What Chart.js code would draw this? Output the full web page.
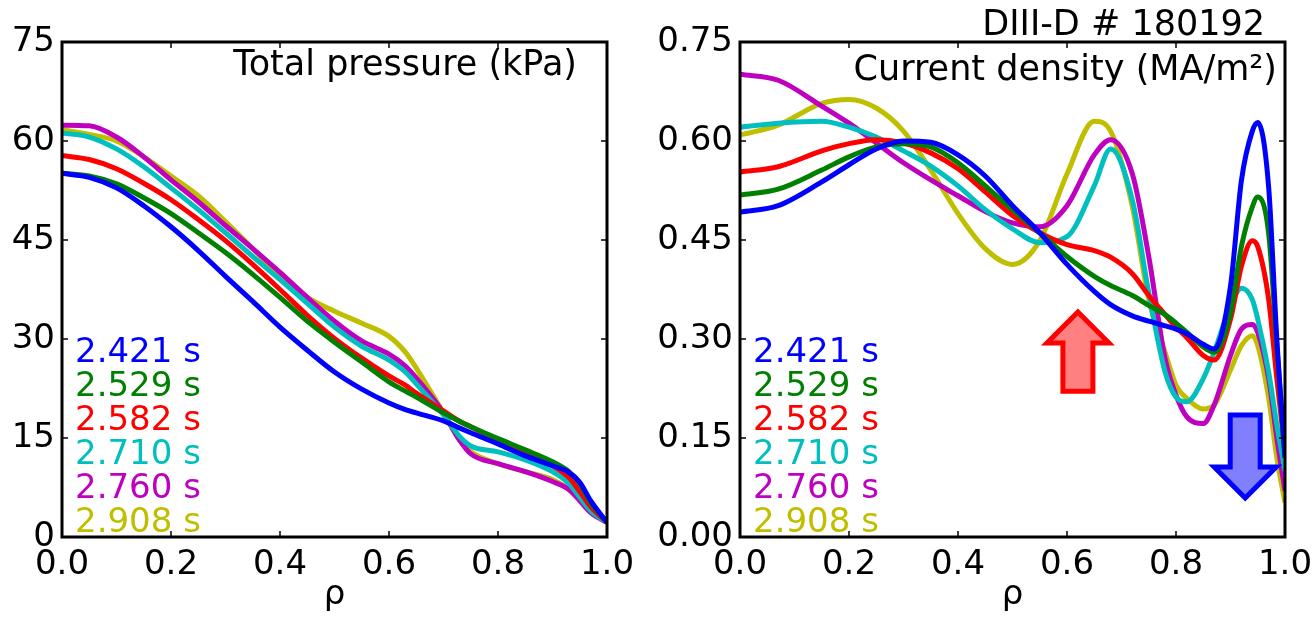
<!DOCTYPE html>
<html>
<head>
<meta charset="utf-8">
<script src="https://cdn.jsdelivr.net/npm/chart.js@4.4.1/dist/chart.umd.min.js"></script>
<style>
    html, body { margin: 0; background: #fff; width: 1315px; height: 617px; overflow: hidden; }
    body { position: relative; }
    .panel { position: absolute; top: 0; height: 617px; }
    #left { left: 0; width: 660px; }
    #right { left: 655px; width: 700px; }
</style>
</head>
<body>
<div class="panel" id="left"><canvas id="pressure-chart" width="660" height="617"></canvas></div>
<div class="panel" id="right"><canvas id="current-chart" width="700" height="617"></canvas></div>
<script>
// time slices (s) and their line colours
const times = ["2.421 s", "2.529 s", "2.582 s", "2.710 s", "2.760 s", "2.908 s"];
const colors = ["#0000ff", "#008000", "#ff0000", "#00bfbf", "#bf00bf", "#bfbf00"];

// total pressure (kPa) vs rho
const rhoP = [0, 0.05, 0.1, 0.15, 0.2, 0.25, 0.3, 0.35, 0.4, 0.45, 0.5, 0.55, 0.6, 0.63, 0.65, 0.7, 0.73, 0.75, 0.8, 0.85, 0.9, 0.93, 0.95, 0.97, 1.0];
const p2421 = [55.1, 54.5, 52.9, 50.2, 47.0, 43.4, 39.5, 35.7, 31.8, 28.3, 25.0, 22.4, 20.3, 19.3, 18.8, 17.6, 16.5, 15.8, 14.1, 12.3, 10.8, 9.8, 8.3, 5.5, 2.2];
const p2529 = [55.1, 54.7, 53.5, 51.4, 49.0, 46.1, 43.1, 39.8, 36.3, 32.7, 29.5, 26.5, 23.5, 22.1, 21.2, 18.8, 17.5, 16.7, 14.9, 13.2, 11.4, 9.9, 8.1, 5.2, 2.2];
const p2582 = [57.8, 57.2, 55.8, 53.6, 51.1, 48.1, 44.9, 41.3, 37.5, 33.6, 30.1, 27.1, 24.4, 23.0, 21.8, 19.1, 17.5, 16.7, 14.6, 12.9, 10.8, 9.0, 6.9, 4.6, 2.2];
const p2710 = [61.2, 60.6, 58.8, 56.1, 52.9, 49.6, 46.1, 42.5, 39.0, 35.4, 31.8, 28.9, 26.8, 25.0, 23.2, 18.5, 15.2, 13.8, 12.9, 11.7, 9.9, 8.1, 6.0, 4.0, 2.2];
const p2760 = [62.4, 62.3, 60.6, 57.6, 54.1, 50.8, 47.2, 43.7, 40.1, 36.3, 32.7, 29.7, 27.7, 25.9, 24.1, 18.8, 14.6, 12.6, 11.1, 9.9, 8.4, 7.2, 5.5, 3.7, 2.2];
const p2908 = [61.7, 61.0, 60.0, 57.6, 54.7, 51.7, 47.8, 43.7, 39.5, 36.3, 34.2, 32.4, 30.4, 28.0, 25.6, 18.8, 14.6, 12.9, 11.1, 9.9, 8.7, 7.2, 5.7, 4.0, 2.2];

// current density (MA/m^2) vs rho
const rhoJ = [0, 0.07, 0.15, 0.2, 0.25, 0.3, 0.35, 0.4, 0.45, 0.5, 0.55, 0.6, 0.65, 0.68, 0.72, 0.75, 0.78, 0.8, 0.82, 0.85, 0.87, 0.9, 0.92, 0.94, 0.95, 0.97, 0.985, 1.0];
const j2421 = [0.492, 0.502, 0.538, 0.564, 0.588, 0.600, 0.598, 0.579, 0.547, 0.502, 0.461, 0.413, 0.372, 0.352, 0.335, 0.327, 0.320, 0.315, 0.308, 0.292, 0.285, 0.38, 0.54, 0.615, 0.628, 0.53, 0.30, 0.12];
const j2529 = [0.518, 0.527, 0.556, 0.576, 0.591, 0.596, 0.591, 0.567, 0.532, 0.496, 0.461, 0.425, 0.395, 0.381, 0.366, 0.351, 0.337, 0.324, 0.310, 0.288, 0.280, 0.34, 0.44, 0.50, 0.515, 0.46, 0.29, 0.12];
const j2582 = [0.553, 0.561, 0.585, 0.596, 0.602, 0.597, 0.582, 0.558, 0.523, 0.487, 0.461, 0.443, 0.434, 0.424, 0.399, 0.366, 0.337, 0.318, 0.302, 0.275, 0.268, 0.33, 0.41, 0.449, 0.44, 0.36, 0.24, 0.13];
const j2710 = [0.621, 0.627, 0.630, 0.621, 0.606, 0.585, 0.562, 0.532, 0.496, 0.467, 0.446, 0.455, 0.532, 0.588, 0.51, 0.37, 0.25, 0.212, 0.205, 0.24, 0.28, 0.35, 0.377, 0.36, 0.33, 0.25, 0.17, 0.10];
const j2760 = [0.701, 0.692, 0.653, 0.627, 0.597, 0.567, 0.541, 0.517, 0.493, 0.476, 0.470, 0.502, 0.579, 0.602, 0.55, 0.425, 0.27, 0.215, 0.182, 0.172, 0.20, 0.275, 0.315, 0.322, 0.31, 0.24, 0.15, 0.07];
const j2908 = [0.609, 0.624, 0.657, 0.663, 0.650, 0.615, 0.556, 0.490, 0.437, 0.413, 0.449, 0.550, 0.630, 0.615, 0.50, 0.36, 0.28, 0.230, 0.21, 0.194, 0.20, 0.253, 0.29, 0.305, 0.29, 0.21, 0.12, 0.052];

// arrows on the current density panel: [rho centre, y tail, y tip] in data units
const arrowUp = [0.62, 0.221, 0.341];
const arrowDown = [0.927, 0.185, 0.059];

const FONT = "'DejaVu Sans', 'Liberation Sans', sans-serif";

function makeDatasets(xs, series) {
    return series.map((ys, i) => ({
        label: times[i],
        borderColor: colors[i],
        borderWidth: 5,
        pointRadius: 0,
        cubicInterpolationMode: "monotone",
        data: ys.map((y, k) => ({ x: xs[k], y: y })),
    }));
}

// box around the plot with inward ticks on all four sides
const framePlugin = {
    id: "frame",
    afterDatasetsDraw(chart) {
        const { ctx, chartArea: a, scales } = chart;
        ctx.save();
        ctx.strokeStyle = "#000";
        ctx.lineWidth = 1.5;
        ctx.beginPath();
        scales.x.ticks.forEach((t) => {
            const px = scales.x.getPixelForValue(t.value);
            ctx.moveTo(px, a.bottom); ctx.lineTo(px, a.bottom - 6);
            ctx.moveTo(px, a.top); ctx.lineTo(px, a.top + 6);
        });
        scales.y.ticks.forEach((t) => {
            const py = scales.y.getPixelForValue(t.value);
            ctx.moveTo(a.left, py); ctx.lineTo(a.left + 6, py);
            ctx.moveTo(a.right, py); ctx.lineTo(a.right - 6, py);
        });
        ctx.stroke();
        ctx.lineWidth = 3;
        ctx.strokeRect(a.left, a.top, a.right - a.left, a.bottom - a.top);
        ctx.restore();
    },
};

// coloured time labels, panel title, shot number and arrows
const textPlugin = {
    id: "panelText",
    afterDraw(chart, args, opts) {
        const { ctx, chartArea: a, scales } = chart;
        ctx.save();
        ctx.font = "34px " + FONT;
        ctx.textBaseline = "alphabetic";
        ctx.textAlign = "left";
        chart.data.datasets.forEach((ds, i) => {
            ctx.fillStyle = ds.borderColor;
            ctx.fillText(ds.label, a.left + opts.labelX, a.top + 320 + i * 34);
        });
        ctx.fillStyle = "#000";
        ctx.textAlign = "right";
        ctx.font = "35px " + FONT;
        ctx.fillText(opts.title, a.right - opts.titleInset, opts.titleY);
        if (opts.shot) ctx.fillText(opts.shot, a.right - 20, 35);

        if (opts.arrows) {
            const x = scales.x, y = scales.y;
            const drawArrow = ([rc, y0, y1], stroke, fill) => {
                const cx = x.getPixelForValue(rc);
                const tail = y.getPixelForValue(y0);
                const tip = y.getPixelForValue(y1);
                const dir = tip < tail ? 1 : -1;
                const headBase = tip + dir * 31;
                const sw = 15, hw = 31;
                ctx.beginPath();
                ctx.moveTo(cx - sw, tail);
                ctx.lineTo(cx - sw, headBase);
                ctx.lineTo(cx - hw, headBase);
                ctx.lineTo(cx, tip);
                ctx.lineTo(cx + hw, headBase);
                ctx.lineTo(cx + sw, headBase);
                ctx.lineTo(cx + sw, tail);
                ctx.closePath();
                ctx.fillStyle = fill;
                ctx.fill();
                ctx.lineWidth = 5;
                ctx.lineJoin = "miter";
                ctx.strokeStyle = stroke;
                ctx.stroke();
            };
            drawArrow(arrowUp, "#ff0000", "#ff8080");
            drawArrow(arrowDown, "#0000ff", "#8080ff");
        }
        ctx.restore();
    },
};

function buildChart(canvasId, xs, series, yMax, yStep, yDigits, yWidth, text) {
    const ctx = document.getElementById(canvasId).getContext("2d");
    return new Chart(ctx, {
        type: "line",
        data: { datasets: makeDatasets(xs, series) },
        options: {
            responsive: false,
            animation: false,
            layout: { padding: { top: 42, right: text.rightPad, left: 0, bottom: 0 } },
            scales: {
                x: {
                    type: "linear",
                    min: 0,
                    max: 1,
                    grid: { display: false, drawTicks: false },
                    border: { display: false },
                    ticks: {
                        stepSize: 0.2,
                        padding: 8,
                        color: "#000",
                        font: { family: FONT, size: 34 },
                        maxRotation: 0,
                        callback: (v) => v.toFixed(1),
                    },
                    title: {
                        display: true,
                        text: "ρ",
                        color: "#000",
                        font: { family: FONT, size: 34 },
                        padding: { top: 0, bottom: 1 },
                    },
                    afterFit: (scale) => { scale.height = 80; },
                },
                y: {
                    min: 0,
                    max: yMax,
                    grid: { display: false, drawTicks: false },
                    border: { display: false },
                    ticks: {
                        stepSize: yStep,
                        padding: 7,
                        color: "#000",
                        font: { family: FONT, size: 34 },
                        callback: (v) => v.toFixed(yDigits),
                    },
                    afterFit: (scale) => { scale.width = yWidth; },
                },
            },
            plugins: {
                legend: { display: false },
                tooltip: { enabled: false },
                panelText: text,
            },
        },
        plugins: [framePlugin, textPlugin],
    });
}

document.addEventListener("DOMContentLoaded", () => {
    buildChart("pressure-chart", rhoP, [p2421, p2529, p2582, p2710, p2760, p2908], 75, 15, 0, 62, {
        title: "Total pressure (kPa)",
        titleInset: 30,
        titleY: 75,
        labelX: 13,
        rightPad: 53,
    });
    buildChart("current-chart", rhoJ, [j2421, j2529, j2582, j2710, j2760, j2908], 0.75, 0.15, 2, 85, {
        title: "Current density (MA/m²)",
        titleInset: 8,
        titleY: 80,
        labelX: 13,
        rightPad: 70,
        shot: "DIII-D # 180192",
        arrows: true,
    });
});
</script>
</body>
</html>
